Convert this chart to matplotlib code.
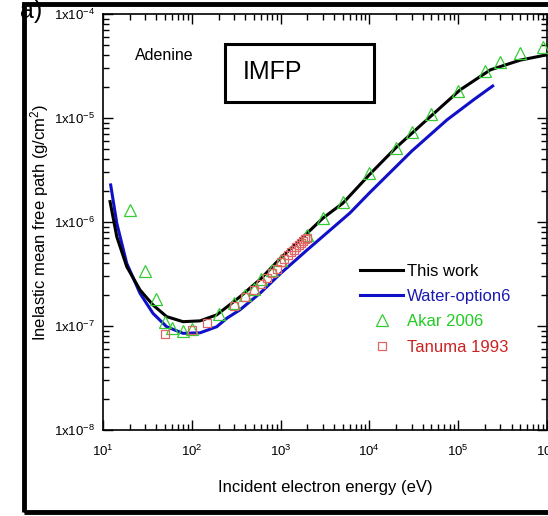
import matplotlib
matplotlib.use("Agg")
import matplotlib.pyplot as plt
from matplotlib.patches import Rectangle
from matplotlib.ticker import FixedLocator, LogLocator, NullFormatter

plt.rcParams["font.family"] = ["Liberation Sans", "DejaVu Sans"]
plt.rcParams["mathtext.default"] = "regular"

# this work (black curve)
work_e = [12.0, 14.3, 18.5, 26.1, 36.6, 52.1, 79.6, 124, 191, 349, 600, 1000, 1653,
          3000, 5050, 1e4, 2e4, 4.8e4, 1.05e5, 2.3e5, 5.0e5, 1e6]
work_imfp = [1.57e-6, 7.2e-7, 3.72e-7, 2.22e-7, 1.59e-7, 1.23e-7, 1.10e-7, 1.12e-7,
             1.28e-7, 1.91e-7, 2.85e-7, 4.5e-7, 6.7e-7, 1.09e-6, 1.52e-6, 2.85e-6,
             5.2e-6, 1.02e-5, 1.86e-5, 2.9e-5, 3.6e-5, 4.05e-5]

# water option6 (blue curve)
water_e = [12.2, 14.3, 18.5, 26.1, 36.6, 52.1, 79.6, 124, 191, 249, 349, 600, 1000,
           2000, 6040, 1e4, 3e4, 7.5e4, 1.5e5, 2.45e5]
water_imfp = [2.27e-6, 9.7e-7, 4.0e-7, 2.06e-7, 1.32e-7, 9.84e-8, 8.5e-8, 8.6e-8,
              9.84e-8, 1.19e-7, 1.43e-7, 2.1e-7, 3.2e-7, 5.4e-7, 1.22e-6, 1.9e-6,
              4.8e-6, 9.6e-6, 1.5e-5, 2.03e-5]

# Akar 2006
akar_e = [20, 30, 40, 50, 60, 80, 100, 200, 300, 400, 500, 600, 800, 1000, 2000,
          3000, 5000, 1e4, 2e4, 3e4, 5e4, 1e5, 2e5, 3e5, 5e5, 9e5]
akar_imfp = [1.29e-6, 3.4e-7, 1.82e-7, 1.09e-7, 9.5e-8, 9.0e-8, 9.35e-8, 1.30e-7,
             1.65e-7, 1.99e-7, 2.26e-7, 2.81e-7, 3.45e-7, 4.31e-7, 7.5e-7, 1.09e-6,
             1.57e-6, 2.96e-6, 5.15e-6, 7.3e-6, 1.1e-5, 1.83e-5, 2.83e-5, 3.43e-5,
             4.19e-5, 4.85e-5]

# Tanuma 1993
tanuma_e = [50, 100, 150, 300, 400, 500, 600, 700, 800, 900, 1000, 1100, 1200,
            1300, 1400, 1500, 1600, 1700, 1800, 1900, 2000]
tanuma_imfp = [8.4e-8, 9.2e-8, 1.06e-7, 1.57e-7, 1.92e-7, 2.22e-7, 2.55e-7, 2.88e-7,
               3.2e-7, 3.55e-7, 4.1e-7, 4.45e-7, 4.8e-7, 5.1e-7, 5.4e-7, 5.7e-7,
               6.0e-7, 6.3e-7, 6.55e-7, 6.8e-7, 7.05e-7]

fig = plt.figure(figsize=(5.48, 5.16), dpi=100)
ax = fig.add_axes([0.188, 0.1667, 0.81, 0.8062])

ax.plot(work_e, work_imfp, color="black", lw=2.2, label="This work", zorder=3)
ax.plot(water_e, water_imfp, color="#1010c8", lw=2.2, label="Water-option6", zorder=2)
ax.plot(akar_e, akar_imfp, ls="none", marker="^", ms=8, mfc="none", mec="#33cc33",
        mew=0.9, label="Akar 2006", zorder=4)
ax.plot(tanuma_e, tanuma_imfp, ls="none", marker="s", ms=6, mfc="none", mec="#e06666",
        mew=0.9, label="Tanuma 1993", zorder=4)

ax.set_xscale("log")
ax.set_yscale("log")
ax.set_xlim(10, 1e6)
ax.set_ylim(1e-8, 1e-4)

ax.xaxis.set_major_locator(FixedLocator([1e1, 1e2, 1e3, 1e4, 1e5, 1e6]))
ax.set_xticklabels(["$10^{1}$", "$10^{2}$", "$10^{3}$", "$10^{4}$", "$10^{5}$", "$10^{6}$"])
ax.yaxis.set_major_locator(FixedLocator([1e-8, 1e-7, 1e-6, 1e-5, 1e-4]))
ax.set_yticklabels(["1x10$^{-8}$", "1x10$^{-7}$", "1x10$^{-6}$", "1x10$^{-5}$", "1x10$^{-4}$"])
for a in (ax.xaxis, ax.yaxis):
    a.set_minor_locator(LogLocator(base=10, subs=range(2, 10), numticks=20))
    a.set_minor_formatter(NullFormatter())
ax.tick_params(which="both", direction="in", top=True, right=True, labelsize=9.5, width=1)
ax.tick_params(which="major", length=7, pad=6)
ax.tick_params(axis="x", which="major", pad=10)
ax.tick_params(which="minor", length=4)
for s in ax.spines.values():
    s.set_linewidth(1.2)

ax.set_xlabel("Incident electron energy (eV)", fontsize=12, labelpad=15)
ax.set_ylabel("Inelastic mean free path (g/cm$^{2}$)", fontsize=12, labelpad=2)

ax.text(0.073, 0.89, "Adenine", transform=ax.transAxes, fontsize=11.5)
ax.add_patch(Rectangle((0.275, 0.788), 0.335, 0.14, transform=ax.transAxes,
                       fill=True, fc="white", ec="black", lw=2.2, zorder=5))
ax.text(0.315, 0.86, "IMFP", transform=ax.transAxes, fontsize=18, va="center", zorder=6)

leg = ax.legend(loc="upper left", bbox_to_anchor=(0.56, 0.42), frameon=False,
                fontsize=12, handlelength=2.6, handletextpad=0.2,
                labelspacing=0.62, borderpad=0)
for txt, c in zip(leg.get_texts(), ["black", "#1a1ab0", "#22cc22", "#cc2222"]):
    txt.set_color(c)

fig.text(0.036, 0.978, "a)", fontsize=18, va="center", zorder=0.5)
fig.patches.append(Rectangle((0.043, 0.008), 1.0, 0.985, transform=fig.transFigure,
                             fill=False, ec="black", lw=3.5, clip_on=False, zorder=5))

fig.savefig("out.png", dpi=100)
